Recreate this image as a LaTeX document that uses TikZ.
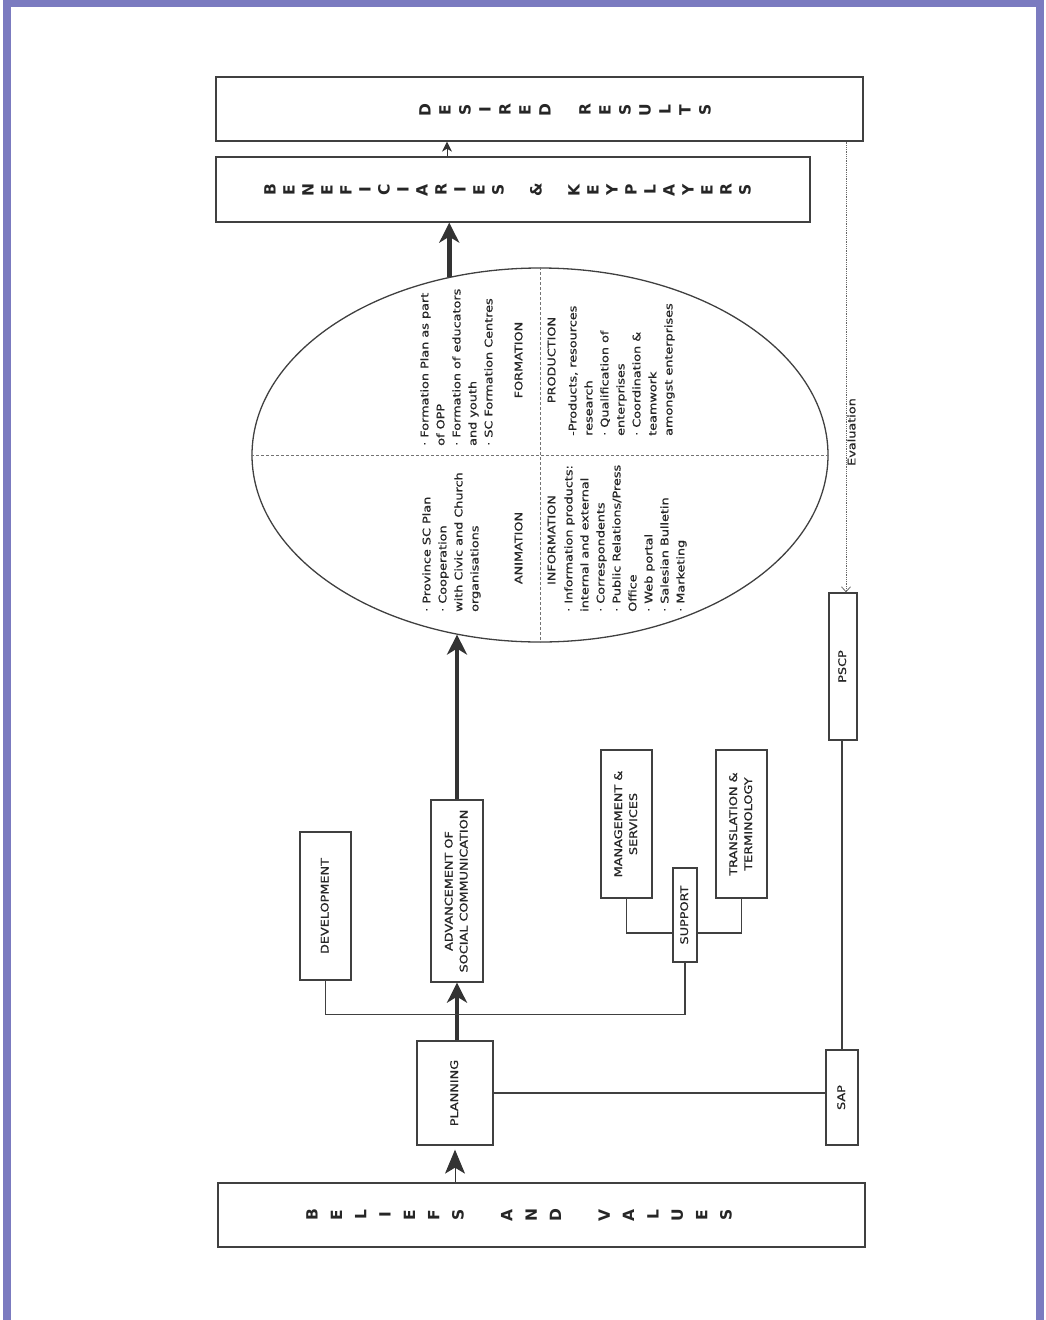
\documentclass[tikz,border=0pt]{standalone}
\usepackage{fontspec}
\setmainfont{DejaVu Sans}
\newfontfamily\heavyfont{DejaVu Sans}[FakeBold=0.7]
\usetikzlibrary{arrows.meta,shapes.geometric,calc}
\definecolor{lavender}{RGB}{123,123,192}
\newcommand{\vtext}[1]{\rotatebox{90}{\scalebox{1.22}[1]{\begin{tabular}{@{}c@{}}#1\end{tabular}}}}
\newcommand{\vlist}[1]{\rotatebox{90}{\scalebox{1.22}[1]{\begin{tabular}{@{}l@{}}#1\end{tabular}}}}
\tikzset{
  box/.style={draw=black!75, line width=1.3pt, inner sep=0pt, fill=white,
    font=\heavyfont\fontsize{10.5}{15}\selectfont, text=black!85},
  thickarrow/.style={draw=black!80, line width=4.8pt, -{Stealth[length=20pt,width=20pt,inset=6pt]}},
  headarrow/.style={draw=black!80, line width=1pt, shorten >=4pt, -{Stealth[length=24pt,width=20pt,inset=6pt]}},
  smallhead/.style={draw=black!80, line width=1pt, -{Stealth[length=10pt,width=10pt,inset=3pt]}},
  link/.style={draw=black!75, line width=1.3pt},
  evalline/.style={draw=black!60, line width=0.8pt, densely dotted, -{Straight Barb[length=5pt,width=9pt]}},
  divider/.style={draw=black!55, line width=0.8pt, densely dashed},
  titlechar/.style={rotate=90, inner sep=0pt, text=black!85, font=\fontsize{15.5}{15.5}\selectfont\bfseries},
  listtext/.style={anchor=south west, inner sep=0pt, text=black!85, font=\heavyfont\fontsize{10.5}{16}\selectfont},
  headtext/.style={inner sep=0pt, text=black!85, font=\heavyfont\fontsize{10.5}{12}\selectfont},
  frame/.style={fill=lavender},
}

\begin{document}
\begin{tikzpicture}[x=1pt, y=-1pt]
  \useasboundingbox (0,0) rectangle (1046,1320);

  %% frame
  \fill[frame] (3,0) rectangle (11,1320);
  \fill[frame] (1036,0) rectangle (1044,1320);
  \fill[frame] (3,0) rectangle (1044,7);

  %% wide boxes
  \node[box, minimum width=647pt, minimum height=64pt] (dr) at (539.5,109) {};
  \node[box, minimum width=594pt, minimum height=65pt] (bkp) at (513,189.5) {};
  \node[box, minimum width=647pt, minimum height=64pt] (bv) at (541.5,1215) {};

  \foreach \ch [count=\i from 0] in {D,E,S,I,R,E,D,,R,E,S,U,L,T,S}
    \node[titlechar] (dr-\i) at (425+\i*20,110) {\ch};
  \foreach \ch [count=\i from 0] in {B,E,N,E,F,I,C,I,A,R,I,E,S,,\&,,K,E,Y,P,L,A,Y,E,R,S}
    \node[titlechar] (bkp-\i) at (270+\i*19,190) {\ch};
  \foreach \ch [count=\i from 0] in {B,E,L,I,E,F,S,,A,N,D,,V,A,L,U,E,S}
    \node[titlechar] (bv-\i) at (312+\i*24.35,1215) {\ch};

  %% ellipse
  \node[ellipse, draw=black!75, line width=1.3pt, minimum width=576pt,
    minimum height=374pt, inner sep=0pt] (ell) at (540,455) {};
  \draw[divider] (ell.north) -- (ell.south);
  \draw[divider] (ell.west) -- (ell.east);

  \node[headtext] (formhead) at (520,360) {\vtext{FORMATION}};
  \node[listtext] (formlist) at (417,446) {\vlist{· Formation Plan as part\\of OPP\\· Formation of educators\\and youth\\· SC Formation Centres}};
  \node[headtext] (animhead) at (520,548) {\vtext{ANIMATION}};
  \node[listtext] (animlist) at (419,612) {\vlist{· Province SC Plan\\· Cooperation\\with Civic and Church\\organisations}};
  \node[headtext] (prodhead) at (553,360) {\vtext{PRODUCTION}};
  \node[listtext] (prodlist) at (565,436) {\vlist{-Products, resources\\research\\· Qualification of\\enterprises\\· Coordination \&\\teamwork\\amongst enterprises}};
  \node[headtext] (infohead) at (553,540) {\vtext{INFORMATION}};
  \node[listtext] (infolist) at (561,612) {\vlist{· Information products:\\internal and external\\· Correspondents\\· Public Relations/Press\\Office\\· Web portal\\· Salesian Bulletin\\· Marketing}};

  %% small boxes
  \node[box, minimum width=76pt, minimum height=104pt] (plan) at (455,1093) {\vtext{PLANNING}};
  \node[box, minimum width=52pt, minimum height=182pt] (asc) at (457,891) {\vtext{ADVANCEMENT OF\\SOCIAL COMMUNICATION}};
  \node[box, minimum width=51pt, minimum height=148pt] (dev) at (325.5,906) {\vtext{DEVELOPMENT}};
  \node[box, minimum width=24pt, minimum height=94pt] (sup) at (685,915) {\vtext{SUPPORT}};
  \node[box, minimum width=51pt, minimum height=148pt] (ms) at (626.5,824) {\vtext{MANAGEMENT \&\\SERVICES}};
  \node[box, minimum width=51pt, minimum height=148pt] (tt) at (741.5,824) {\vtext{TRANSLATION \&\\TERMINOLOGY}};
  \node[box, minimum width=32pt, minimum height=95pt] (sap) at (842,1097.5) {\vtext{SAP}};
  \node[box, minimum width=28pt, minimum height=147pt] (pscp) at (843,666.5) {\vtext{PSCP}};

  %% connectors
  \draw[headarrow] (plan.south |- bv.north) -- (plan.south);
  \draw[thickarrow] (asc.south |- plan.north) -- (asc.south);
  \draw[thickarrow] (asc.north) -- (asc.north |- ell.245);
  \draw[thickarrow] (ell.117) -- (ell.117 |- bkp.south);
  \draw[smallhead] ([xshift=-66pt]bkp.north) -- ([xshift=-66pt]bkp.north |- dr.south);

  \draw[link] (dev.south) -- ++(0,34) -| (sup.south);
  \draw[link] (ms.south) |- ([yshift=-18pt]sup.west);
  \draw[link] (tt.south) |- ([yshift=-18pt]sup.east);
  \draw[link] (plan.east) -- (plan.east -| sap.west);
  \draw[link] (sap.north) -- (sap.north |- pscp.south);

  \draw[evalline] ([xshift=3pt]pscp.north |- dr.south) -- ([xshift=3pt]pscp.north);
  \node[headtext] (evallabel) at (853,432) {\vtext{Evaluation}};
\end{tikzpicture}
\end{document}
